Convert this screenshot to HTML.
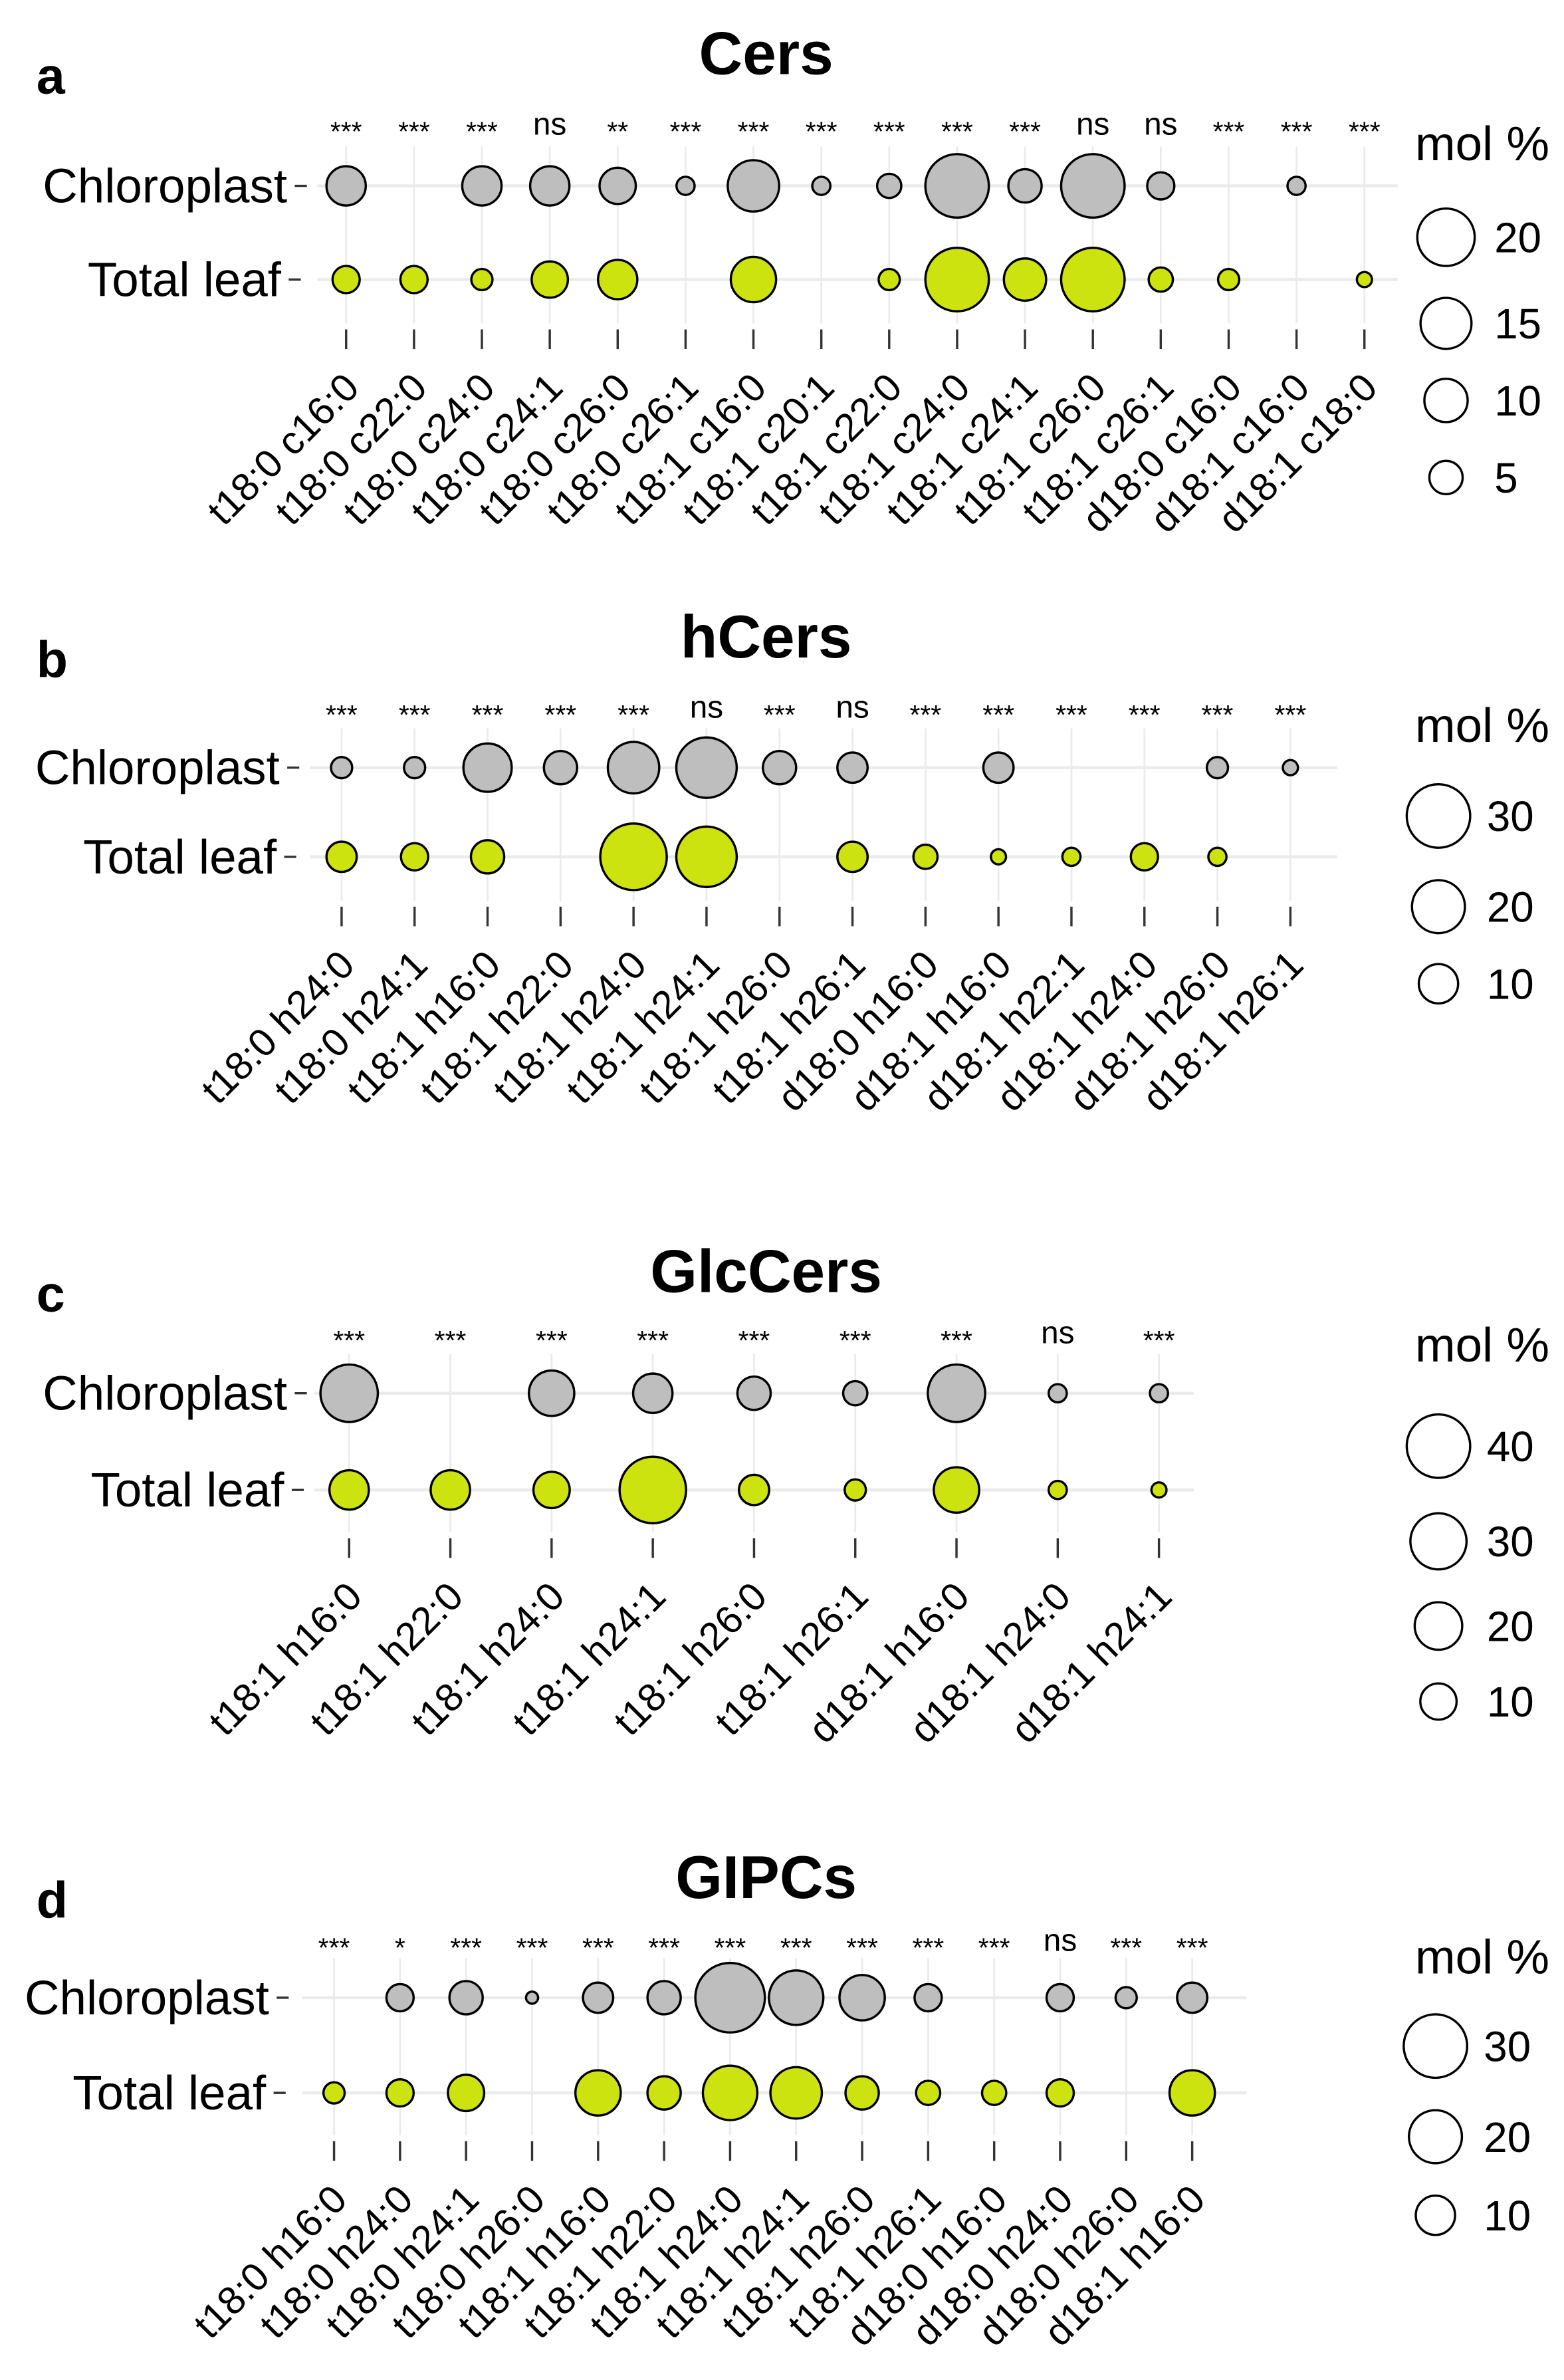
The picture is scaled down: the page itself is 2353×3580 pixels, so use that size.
<!DOCTYPE html>
<html><head><meta charset="utf-8"><style>
html,body{margin:0;padding:0;background:#fff;}
svg{display:block;font-family:"Liberation Sans",Arial,sans-serif;}
</style></head><body>
<svg id="fig" width="2353" height="3580" viewBox="0 0 1035 1575" xmlns="http://www.w3.org/2000/svg"></svg>
<script>
// ---- Panel a: Cers ----
const catsA = ["t18:0 c16:0","t18:0 c22:0","t18:0 c24:0","t18:0 c24:1","t18:0 c26:0","t18:0 c26:1","t18:1 c16:0","t18:1 c20:1","t18:1 c22:0","t18:1 c24:0","t18:1 c24:1","t18:1 c26:0","t18:1 c26:1","d18:0 c16:0","d18:1 c16:0","d18:1 c18:0"];
const chlA = [7.8,0,7.8,7.8,6.3,0.7,15.3,0.7,1.95,25.3,5,25.3,2.8,0,0.7,0];
const totA = [2.8,2.8,1.25,6.3,7.8,0,11.2,0,1.25,25.3,9.4,25.3,1.95,1.25,0,0.31];
const sigA = ["***","***","***","ns","**","***","***","***","***","***","***","ns","ns","***","***","***"];
const legA = [20,15,10,5];
// ---- Panel b: hCers ----
const catsB = ["t18:0 h24:0","t18:0 h24:1","t18:1 h16:0","t18:1 h22:0","t18:1 h24:0","t18:1 h24:1","t18:1 h26:0","t18:1 h26:1","d18:0 h16:0","d18:1 h16:0","d18:1 h22:1","d18:1 h24:0","d18:1 h26:0","d18:1 h26:1"];
const chlB = [2.04,2.04,16.2,6.68,18.7,26.9,6.68,5.27,0,5.27,0,0,2.04,0.72];
const totB = [5.27,4.02,6.68,0,33.3,26.9,0,5.27,2.94,0.72,1.29,4.02,1.29,0];
const sigB = ["***","***","***","***","***","ns","***","ns","***","***","***","***","***","***"];
const legB = [30,20,10];
// ---- Panel c: GlcCers ----
const catsC = ["t18:1 h16:0","t18:1 h22:0","t18:1 h24:0","t18:1 h24:1","t18:1 h26:0","t18:1 h26:1","d18:1 h16:0","d18:1 h24:0","d18:1 h24:1"];
const chlC = [31.6,0,17.8,12.4,7.9,3.09,31.6,1.11,1.11];
const totC = [12.4,12.4,10,44.6,6.05,1.98,17.8,1.11,0.49];
const sigC = ["***","***","***","***","***","***","***","ns","***"];
const legC = [40,30,20,10];
// ---- Panel d: GIPCs ----
const catsD = ["t18:0 h16:0","t18:0 h24:0","t18:0 h24:1","t18:0 h26:0","t18:1 h16:0","t18:1 h22:0","t18:1 h24:0","t18:1 h24:1","t18:1 h26:0","t18:1 h26:1","d18:0 h16:0","d18:0 h24:0","d18:0 h26:0","d18:1 h16:0"];
const chlD = [0,4.02,6.68,0.31,5.27,6.68,36.7,21.3,14,4.02,0,4.02,2.04,5.27];
const totD = [2.04,4.02,8.25,0,14,6.68,21.3,18.7,6.68,2.94,2.94,4.02,0,14];
const sigD = ["***","*","***","***","***","***","***","***","***","***","***","ns","***","***"];
const legD = [30,20,10];

const NS="http://www.w3.org/2000/svg";
const svg=document.getElementById('fig');
function mk(tag,attrs,parent){const e=document.createElementNS(NS,tag);for(const k in attrs)e.setAttribute(k,attrs[k]);(parent||svg).appendChild(e);return e;}

const panels=[
 {letter:"a",title:"Cers",cats:catsA,chl:chlA,tot:totA,sig:sigA,leg:legA,x0:229,x1:903,titleY:48,yChl:123,yTot:185,starY:92,tickY:218,gridX0:210,gridX1:925,labChl:190,labTot:186,c:3,k:3.58,legX:957,legY:[157,214,265,316],molY:106},
 {letter:"b",title:"hCers",cats:catsB,chl:chlB,tot:totB,sig:sigB,leg:legB,x0:226,x1:854,titleY:434,yChl:508,yTot:567,starY:478,tickY:600,gridX0:205,gridX1:885,labChl:185,labTot:183,c:2.07,k:3.456,legX:952,legY:[540,600,651],molY:491},
 {letter:"c",title:"GlcCers",cats:catsC,chl:chlC,tot:totC,sig:sigC,leg:legC,x0:231,x1:767,titleY:854,yChl:922,yTot:986,starY:892,tickY:1018,gridX0:208,gridX1:790,labChl:190,labTot:188,c:3,k:2.845,legX:952,legY:[957,1020,1076,1126],molY:901},
 {letter:"d",title:"GIPCs",cats:catsD,chl:chlD,tot:totD,sig:sigD,leg:legD,x0:221,x1:789,titleY:1255,yChl:1322,yTot:1385,starY:1294,tickY:1417,gridX0:200,gridX1:825,labChl:178,labTot:176,c:2.07,k:3.456,legX:950,legY:[1354,1414,1466],molY:1306}
];

panels.forEach(p=>{
  const g=mk('g',{});
  
  
  const n=p.cats.length;
  const xScale=i=>p.x0+(p.x1-p.x0)*i/(n-1);
  const rScale=v=>p.c+p.k*Math.sqrt(v);
  const L=mk('text',{x:24,y:p.titleY+14,'font-size':34,'font-weight':'bold'},g);L.textContent=p.letter;
  
  
  const T=mk('text',{x:507,y:p.titleY+1,'font-size':40,'font-weight':'bold','text-anchor':'middle'},g);T.textContent=p.title;
  
  
  [p.yChl,p.yTot].forEach(y=>{const l=mk('line',{x1:p.gridX0,x2:p.gridX1,y1:y,y2:y,stroke:'#ebebeb','stroke-width':2},g);
    
    });
  for(let i=0;i<n;i++){const x=xScale(i);
    const l=mk('line',{x1:x,x2:x,y1:p.yChl-26,y2:p.tickY-4,stroke:'#ebebeb','stroke-width':1.2},g);
    
    }
  [[p.labChl,p.yChl,"Chloroplast"],[p.labTot,p.yTot,"Total leaf"]].forEach(([x,y,t])=>{
    const e=mk('text',{x:x,y:y+11,'font-size':32,'text-anchor':'end'},g);e.textContent=t;
    
    
    const tk=mk('line',{x1:x+5,x2:x+13,y1:y,y2:y,stroke:'#333','stroke-width':1.5},g);
    
    
  });
  for(let i=0;i<n;i++){
    const x=xScale(i);
    const s=mk('text',{x:x,y:p.sig[i]==="ns"?p.starY-3:p.starY+1,'font-size':p.sig[i]==="ns"?21:18,'text-anchor':'middle'},g);s.textContent=p.sig[i];
    
    
    if(p.chl[i]>0){const c=mk('circle',{cx:x,cy:p.yChl,r:rScale(p.chl[i]),fill:'#bebebe',stroke:'#000','stroke-width':1.5},g);
      
      }
    if(p.tot[i]>0){const c=mk('circle',{cx:x,cy:p.yTot,r:rScale(p.tot[i]),fill:'#cce310',stroke:'#000','stroke-width':1.5},g);
      
      }
    const tk=mk('line',{x1:x,x2:x,y1:p.tickY,y2:p.tickY+13,stroke:'#333','stroke-width':1.5},g);
    
    
    const ax=x+10, ay=p.tickY+40;
    const lb=mk('text',{x:ax,y:ay,'font-size':26,'text-anchor':'end',transform:`rotate(-45 ${ax} ${ay})`},g);lb.textContent=p.cats[i];
    
    
  }
  const m=mk('text',{x:981,y:p.molY,'font-size':32,'text-anchor':'middle'},g);m.textContent="mol %";
  
  
  p.leg.forEach((v,j)=>{
    const c=mk('circle',{cx:p.legX,cy:p.legY[j],r:rScale(v),fill:'#fff',stroke:'#000','stroke-width':1.5},g);
    
    
    const t=mk('text',{x:p.legX+32,y:p.legY[j]+10,'font-size':28},g);t.textContent=v;
    
    
  });
});
</script>
</body></html>
